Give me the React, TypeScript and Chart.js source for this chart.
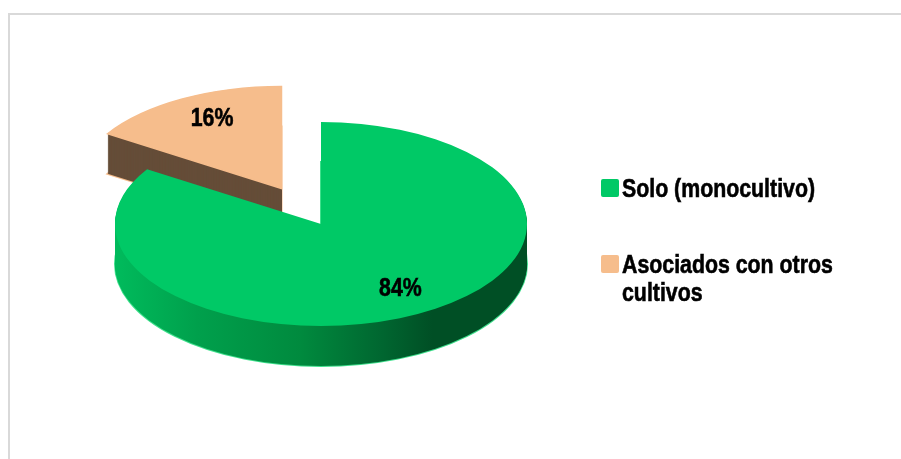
import { useEffect, useRef } from "react";
import { Chart, registerables } from "chart.js";

Chart.register(...registerables);

// ---- data ----
const categories = ["Solo (monocultivo)", "Asociados con otros cultivos"];
const shares = [84, 16];
const percentLabels = ["84%", "16%"];

// ---- styles ----
const topColors = ["#00c966", "#f6bd8c"];
const brownSide = "#654d38";
const RY_RATIO = 102 / 206; // vertical squash of the pie
const DEPTH = 40; // extrusion height
const EXPLODE = [0, 82]; // radial pull-out per slice
const LABEL_K = 0.75;
const FONT = "bold 26px 'Liberation Sans', Arial, sans-serif";
const CONDENSE = 0.82;

function condensedText(ctx: CanvasRenderingContext2D, text: string, x: number, y: number, align: "left" | "center") {
  ctx.save();
  ctx.font = FONT;
  ctx.fillStyle = "#000";
  ctx.strokeStyle = "#000";
  ctx.lineWidth = 0.6;
  ctx.textBaseline = "alphabetic";
  const w = ctx.measureText(text).width * CONDENSE;
  const x0 = align === "center" ? x - w / 2 : x;
  ctx.translate(x0, y);
  ctx.scale(CONDENSE, 1);
  ctx.textAlign = "left";
  ctx.fillText(text, 0, 0);
  ctx.strokeText(text, 0, 0);
  ctx.restore();
  return w;
}

const pie3d = {
  id: "pie3d",
  beforeDraw(chart: any) {
    const ctx: CanvasRenderingContext2D = chart.ctx;
    ctx.save();
    ctx.fillStyle = "#fff";
    ctx.fillRect(0, 0, chart.width, chart.height);
    ctx.strokeStyle = "#d9d9d9";
    ctx.lineWidth = 2;
    ctx.beginPath();
    ctx.moveTo(9, chart.height + 5);
    ctx.lineTo(9, 14);
    ctx.lineTo(chart.width + 5, 14);
    ctx.stroke();
    ctx.restore();
  },
  beforeDatasetsDraw(chart: any) {
    const ctx: CanvasRenderingContext2D = chart.ctx;
    const meta = chart.getDatasetMeta(0);
    const n = meta.data.length;
    const geo = meta.data.map((arc: any, i: number) => {
      const p = arc.getProps(["x", "y", "startAngle", "endAngle", "outerRadius"], true);
      const mid = (p.startAngle + p.endAngle) / 2;
      const rx = p.outerRadius;
      const ry = p.outerRadius * RY_RATIO;
      const cx = p.x + Math.cos(mid) * EXPLODE[i];
      const cy = p.y + Math.sin(mid) * EXPLODE[i] * RY_RATIO;
      return { ...p, mid, rx, ry, cx, cy };
    });
    const path = (g: any, dy: number) => {
      ctx.beginPath();
      ctx.moveTo(g.cx, g.cy + dy);
      ctx.ellipse(g.cx, g.cy + dy, g.rx, g.ry, 0, g.startAngle, g.endAngle);
      ctx.closePath();
    };
    ctx.save();
    // draw back slices first (last index first)
    for (let i = n - 1; i >= 0; i--) {
      const g = geo[i];
      let side: any;
      if (i === 0) {
        const grad = ctx.createLinearGradient(g.cx - g.rx, 0, g.cx + g.rx, 0);
        grad.addColorStop(0, "#00bb5c");
        grad.addColorStop(0.2, "#00a04c");
        grad.addColorStop(0.45, "#008a3e");
        grad.addColorStop(0.65, "#006630");
        grad.addColorStop(0.77, "#004f25");
        grad.addColorStop(1, "#004f25");
        side = grad;
      } else {
        side = brownSide;
      }
      ctx.lineWidth = 2;
      ctx.strokeStyle = i === 0 ? "#3ee08c" : topColors[i];
      path(g, DEPTH);
      ctx.stroke();
      for (let d = DEPTH; d >= 1; d--) {
        ctx.fillStyle = side;
        path(g, d);
        ctx.fill();
      }
      if (i !== 0) {
        ctx.lineWidth = 1.5;
        ctx.strokeStyle = topColors[i];
        path(g, 0);
        ctx.stroke();
      }
      ctx.fillStyle = topColors[i];
      path(g, 0);
      ctx.fill();
    }
    // percent labels
    for (let i = 0; i < n; i++) {
      const g = geo[i];
      const lx = g.cx + Math.cos(g.mid) * g.rx * LABEL_K;
      const ly = g.cy + Math.sin(g.mid) * g.ry * LABEL_K;
      condensedText(ctx, percentLabels[i], lx + 5, ly + 5, "center");
    }
    ctx.restore();
    return false;
  },
  afterDraw(chart: any) {
    const ctx: CanvasRenderingContext2D = chart.ctx;
    const labels: string[] = chart.data.labels;
    const colors: string[] = chart.data.datasets[0].backgroundColor;
    const boxX = 601;
    const textX = 622;
    const maxW = chart.width - textX - 20;
    let top = 179;
    const lineH = 28;
    ctx.save();
    ctx.font = FONT;
    labels.forEach((label, i) => {
      ctx.fillStyle = colors[i];
      ctx.beginPath();
      (ctx as any).roundRect ? (ctx as any).roundRect(boxX, top, 18, 18, 2) : ctx.rect(boxX, top, 18, 18);
      ctx.fill();
      const words = label.split(" ");
      const lines: string[] = [];
      let cur = "";
      for (const w of words) {
        const t = cur ? cur + " " + w : w;
        if (ctx.measureText(t).width * CONDENSE > maxW && cur) {
          lines.push(cur);
          cur = w;
        } else cur = t;
      }
      if (cur) lines.push(cur);
      lines.forEach((ln, j) => condensedText(ctx, ln, textX, top + 18 + j * lineH, "left"));
      top += 76;
    });
    ctx.restore();
  },
};

export default function App() {
  const ref = useRef<HTMLCanvasElement>(null);
  useEffect(() => {
    if (!ref.current) return;
    const chart = new Chart(ref.current, {
      type: "pie",
      data: {
        labels: categories,
        datasets: [
          {
            data: shares,
            backgroundColor: topColors,
            borderWidth: 0,
          },
        ],
      },
      options: {
        responsive: false,
        animation: false,
        layout: { padding: { left: 115, right: 374, top: 18, bottom: 29 } },
        plugins: {
          legend: { display: false },
          tooltip: { enabled: false },
        },
      },
      plugins: [pie3d as any],
    });
    return () => chart.destroy();
  }, []);
  return (
    <div style={{ position: "absolute", left: 0, top: 0, width: 901, height: 459 }}>
      <canvas ref={ref} width={901} height={459} style={{ display: "block" }} />
    </div>
  );
}
